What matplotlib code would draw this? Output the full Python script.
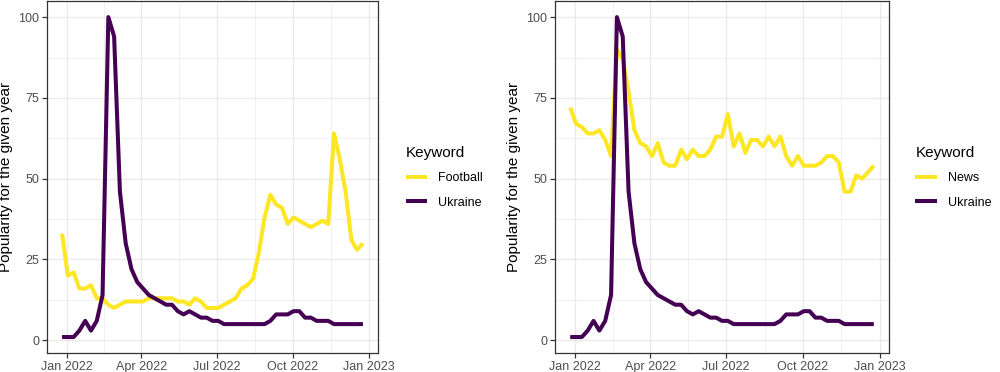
import numpy as np
import pandas as pd
import matplotlib
matplotlib.use("Agg")
import matplotlib.pyplot as plt
import matplotlib.dates as mdates

plt.rcParams['font.family'] = ['Liberation Sans', 'DejaVu Sans']

weeks = pd.date_range("2021-12-26", periods=53, freq="7D")

ukraine = [1, 1, 1, 3, 6, 3, 6, 14, 100, 94, 46, 30, 22, 18, 16, 14, 13, 12, 11, 11,
           9, 8, 9, 8, 7, 7, 6, 6, 5, 5, 5, 5, 5, 5, 5, 5, 6, 8, 8, 8,
           9, 9, 7, 7, 6, 6, 6, 5, 5, 5, 5, 5, 5]

football = [33, 20, 21, 16, 16, 17, 13, 13, 11, 10, 11, 12, 12, 12, 12, 13, 13, 13, 13, 13,
            12, 12, 11, 13, 12, 10, 10, 10, 11, 12, 13, 16, 17, 19, 27, 38, 45, 42, 41, 36,
            38, 37, 36, 35, 36, 37, 36, 64, 56, 46, 31, 28, 30]

news = [72, 67, 66, 64, 64, 65, 62, 57, 90, 87, 77, 65, 61, 60, 57, 61, 55, 54, 54, 59,
        56, 59, 57, 57, 59, 63, 63, 70, 60, 64, 58, 62, 62, 60, 63, 60, 63, 57, 54, 57,
        54, 54, 54, 55, 57, 57, 55, 46, 46, 51, 50, 52, 54]

panels = [("Football", football), ("News", news)]
legend_title = "Keyword"
y_label = "Popularity for the given year"
x_ticks = ["2022-01-01", "2022-04-01", "2022-07-01", "2022-10-01", "2023-01-01"]
x_minor = ["2022-02-15", "2022-05-16", "2022-08-16", "2022-11-16"]
y_ticks = [0, 25, 50, 75, 100]
y_minor = [12.5, 37.5, 62.5, 87.5]

YELLOW = "#FDE725"
PURPLE = "#440154"

fig = plt.figure(figsize=(10, 3.72), dpi=100)
axes_pos = [[0.047, 0.051, 0.331, 0.946], [0.555, 0.051, 0.334, 0.946]]
legend_x = [1.05, 1.045]

x0 = mdates.date2num(weeks[0])
x1 = mdates.date2num(weeks[-1])
xpad = 0.05 * (x1 - x0)

for (name, vals), pos, lx in zip(panels, axes_pos, legend_x):
    ax = fig.add_axes(pos)
    ax.plot(weeks, vals, color=YELLOW, lw=2.9, label=name, solid_capstyle='butt', zorder=3)
    ax.plot(weeks, ukraine, color=PURPLE, lw=2.9, label="Ukraine", solid_capstyle='butt', zorder=4)
    ax.set_xticks(pd.to_datetime(x_ticks))
    ax.xaxis.set_major_formatter(mdates.DateFormatter("%b %Y"))
    ax.set_xticks(pd.to_datetime(x_minor), minor=True)
    ax.set_yticks(y_ticks)
    ax.set_yticks(y_minor, minor=True)
    ymin = min(min(vals), min(ukraine))
    ymax = max(max(vals), max(ukraine))
    ypad = 0.05 * (ymax - ymin)
    ax.set_xlim(x0 - xpad, x1 + xpad)
    ax.set_ylim(ymin - ypad, ymax + ypad)
    ax.grid(which='major', color='#EBEBEB', lw=1.0, zorder=0)
    ax.grid(which='minor', color='#EBEBEB', lw=0.5, zorder=0)
    ax.set_axisbelow(True)
    for s in ax.spines.values():
        s.set_color('#333333')
        s.set_linewidth(0.9)
    ax.tick_params(which='major', length=3.5, width=0.9, color='#333333',
                   labelsize=9, labelcolor='#4D4D4D', pad=2)
    ax.tick_params(which='minor', length=0)
    ax.set_ylabel(y_label, fontsize=11, color='black', labelpad=4)
    leg = ax.legend(loc='center left', bbox_to_anchor=(lx, 0.5), frameon=False,
                    title=legend_title, alignment='left', fontsize=9,
                    title_fontproperties={'size': 11}, handlelength=1.7,
                    handletextpad=0.9, labelspacing=1.0)
    for h in leg.get_lines():
        h.set_linewidth(2.9)

fig.savefig("out.png", dpi=100)
